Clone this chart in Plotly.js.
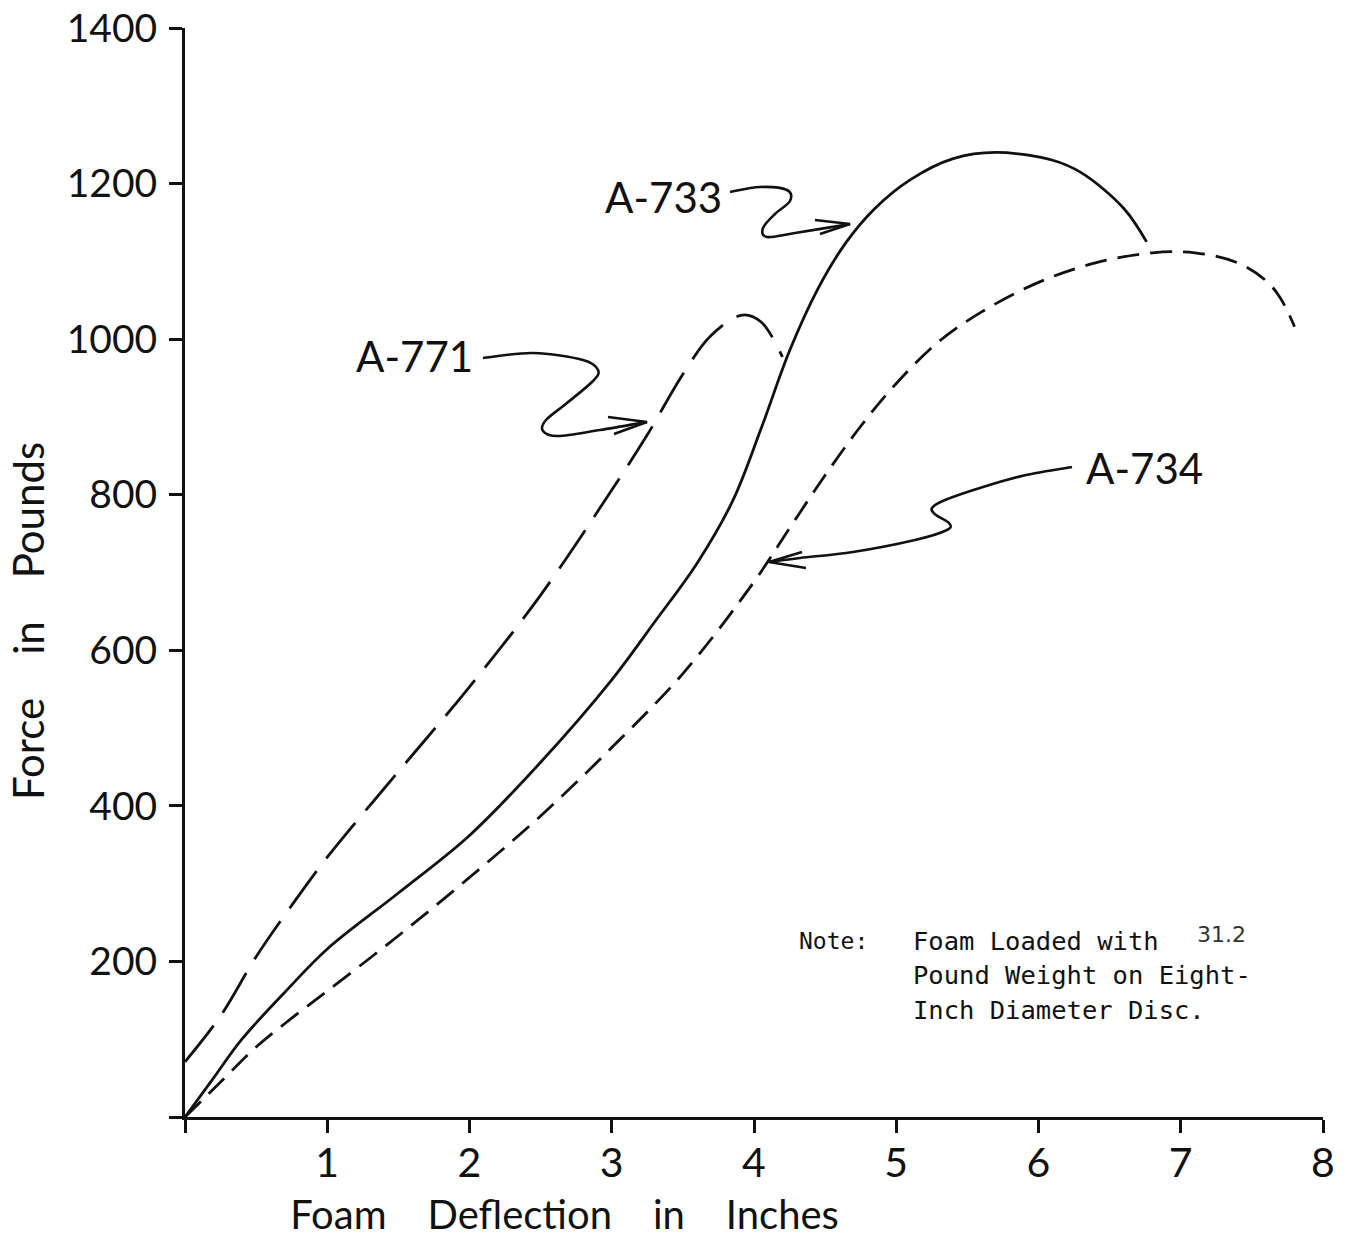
<!DOCTYPE html>
<html>
<head>
<meta charset="utf-8">
<script src="https://cdn.plot.ly/plotly-3.0.1.min.js"></script>
<style>html,body{margin:0;padding:0;background:#fff;}#chart{width:1346px;height:1245px;}</style>
</head>
<body>
<div id="chart"></div>
<script>
// ---- Data ----
const a771X = [0, 0.25, 0.5, 0.75, 1.0, 1.5, 2.0, 2.5, 3.0, 3.25, 3.5, 3.7, 3.92, 4.05, 4.2];
const a771Y = [71, 130, 206, 272, 334, 444, 553, 671, 806, 877, 955, 1005, 1031, 1022, 977];

const a733X = [0, 0.2, 0.4, 0.7, 1.0, 1.5, 2.0, 2.5, 3.0, 3.3, 3.6, 3.85, 4.05, 4.25, 4.45, 4.65, 4.85, 5.1, 5.4, 5.7, 6.1, 6.3, 6.6, 6.76];
const a733Y = [0, 50, 100, 160, 216, 288, 362, 456, 562, 636, 712, 792, 885, 985, 1065, 1125, 1168, 1205, 1232, 1240, 1230, 1214, 1168, 1125];

const a734X = [0, 0.25, 0.5, 0.75, 1.0, 1.5, 2.0, 2.5, 3.0, 3.5, 4.0, 4.25, 4.5, 4.75, 5.0, 5.3, 5.6, 6.0, 6.4, 6.8, 7.1, 7.4, 7.6, 7.7, 7.8];
const a734Y = [0, 45, 90, 127, 162, 233, 308, 387, 475, 570, 688, 757, 825, 888, 943, 997, 1035, 1073, 1098, 1111, 1111, 1098, 1075, 1053, 1016];

const xTickVals = [0, 1, 2, 3, 4, 5, 6, 7, 8];
const xTickText = ['', '1', '2', '3', '4', '5', '6', '7', '8'];
const yTickVals = [0, 200, 400, 600, 800, 1000, 1200, 1400];
const yTickText = ['', '200', '400', '600', '800', '1000', '1200', '1400'];

const seriesNames = ['A-771', 'A-733', 'A-734'];
const gap = '\u00a0\u00a0\u00a0 ';
const xTitle = 'Foam' + gap + 'Deflection' + gap + 'in' + gap + 'Inches';
const yTitle = 'Force' + gap + 'in' + gap + 'Pounds';
const noteLines = ['Foam Loaded with', 'Pound Weight on Eight-', 'Inch Diameter Disc.'];
const noteLabel = 'Note:';
const noteWeight = '31.2';

// ---- Layout geometry ----
const L = 185, T = 28, W = 1138, H = 1089, XMAX = 8, YMAX = 1400;
function dx(px) { return (px - L) / W * XMAX; }
function dy(py) { return (T + H - py) / H * YMAX; }

function smoothPath(pts) {
  let s = 'M' + dx(pts[0][0]) + ',' + dy(pts[0][1]);
  for (let i = 0; i < pts.length - 1; i++) {
    const p0 = pts[i - 1] || pts[i], p1 = pts[i], p2 = pts[i + 1], p3 = pts[i + 2] || pts[i + 1];
    const c1 = [p1[0] + (p2[0] - p0[0]) / 6, p1[1] + (p2[1] - p0[1]) / 6];
    const c2 = [p2[0] - (p3[0] - p1[0]) / 6, p2[1] - (p3[1] - p1[1]) / 6];
    s += ' C' + dx(c1[0]) + ',' + dy(c1[1]) + ' ' + dx(c2[0]) + ',' + dy(c2[1]) + ' ' + dx(p2[0]) + ',' + dy(p2[1]);
  }
  return s;
}
function polyPath(pts) {
  return pts.map((p, i) => (i ? 'L' : 'M') + dx(p[0]) + ',' + dy(p[1])).join(' ');
}

// hand-drawn leader arrows (pixel guides)
const arrow771 = [[483,358],[533,353],[583,360],[598,370],[593,381],[567,403],[546,420],[543,431],[558,436],[600,430],[647,422]];
const head771 = [[608,417],[647,422],[614,434]];
const arrow733 = [[730,192],[760,187],[787,190],[790,201],[775,214],[763,228],[767,237],[795,233],[850,224]];
const head733 = [[815,220],[850,224],[820,234]];
const arrow734 = [[1072,467],[1026,475],[983,487],[945,500],[932,508],[936,515],[949,523],[947,530],[915,540],[853,552],[800,558],[769,562]];
const head734 = [[802,552],[769,562],[806,568]];

const ink = '#111';
const lineStyle = { color: ink, width: 2.6 };
const shapes = [
  { type: 'path', xref: 'x', yref: 'y', path: smoothPath(arrow771), line: lineStyle },
  { type: 'path', xref: 'x', yref: 'y', path: polyPath(head771), line: lineStyle },
  { type: 'path', xref: 'x', yref: 'y', path: smoothPath(arrow733), line: lineStyle },
  { type: 'path', xref: 'x', yref: 'y', path: polyPath(head733), line: lineStyle },
  { type: 'path', xref: 'x', yref: 'y', path: smoothPath(arrow734), line: lineStyle },
  { type: 'path', xref: 'x', yref: 'y', path: polyPath(head734), line: lineStyle }
];

const mainFont = 'Lato, "Noto Sans", sans-serif';
const monoFont = '"DejaVu Sans Mono", "Liberation Mono", monospace';

const traces = [
  { x: a771X, y: a771Y, name: seriesNames[0], mode: 'lines', line: { color: ink, width: 2.8, dash: '46px,16px', shape: 'spline', smoothing: 1 } },
  { x: a733X, y: a733Y, name: seriesNames[1], mode: 'lines', line: { color: ink, width: 2.8, dash: 'solid', shape: 'spline', smoothing: 1 } },
  { x: a734X, y: a734Y, name: seriesNames[2], mode: 'lines', line: { color: ink, width: 2.8, dash: '22px,11px', shape: 'spline', smoothing: 1 } }
];

const annotations = [
  { text: seriesNames[0], x: dx(414), y: dy(356), xref: 'x', yref: 'y', showarrow: false, font: { family: mainFont, size: 42, color: ink } },
  { text: seriesNames[1], x: dx(663), y: dy(197), xref: 'x', yref: 'y', showarrow: false, font: { family: mainFont, size: 42, color: ink } },
  { text: seriesNames[2], x: dx(1144), y: dy(468), xref: 'x', yref: 'y', showarrow: false, font: { family: mainFont, size: 42, color: ink } },
  { text: noteLabel, x: dx(797), y: dy(941), xref: 'x', yref: 'y', xanchor: 'left', yanchor: 'middle', showarrow: false, font: { family: monoFont, size: 23, color: ink } },
  { text: noteLines[0], x: dx(911), y: dy(941), xref: 'x', yref: 'y', xanchor: 'left', yanchor: 'middle', showarrow: false, font: { family: monoFont, size: 25.5, color: ink } },
  { text: noteLines[1], x: dx(911), y: dy(975), xref: 'x', yref: 'y', xanchor: 'left', yanchor: 'middle', showarrow: false, font: { family: monoFont, size: 25.5, color: ink } },
  { text: noteLines[2], x: dx(911), y: dy(1010), xref: 'x', yref: 'y', xanchor: 'left', yanchor: 'middle', showarrow: false, font: { family: monoFont, size: 25.5, color: ink } },
  { text: noteWeight, x: dx(1195), y: dy(934), xref: 'x', yref: 'y', xanchor: 'left', yanchor: 'middle', showarrow: false, font: { family: '"DejaVu Sans", sans-serif', size: 22, color: '#333' } }
];

const layout = {
  width: 1346, height: 1245, autosize: false,
  margin: { l: L, r: 1346 - L - W, t: T, b: 1245 - T - H, pad: 0 },
  paper_bgcolor: '#fff', plot_bgcolor: '#fff',
  showlegend: false,
  xaxis: {
    range: [0, XMAX], showgrid: false, zeroline: false,
    showline: true, linecolor: ink, linewidth: 3,
    ticks: 'outside', ticklen: 13, tickwidth: 3, tickcolor: ink,
    tickmode: 'array', tickvals: xTickVals, ticktext: xTickText,
    tickfont: { family: mainFont, size: 41, color: ink },
    ticklabelstandoff: -5,
    title: { text: xTitle + '\u00a0'.repeat(37) + '\u200b', font: { family: mainFont, size: 40, color: ink }, standoff: 16 }
  },
  yaxis: {
    range: [0, YMAX], showgrid: false, zeroline: false,
    showline: true, linecolor: ink, linewidth: 3,
    ticks: 'outside', ticklen: 13, tickwidth: 3, tickcolor: ink,
    tickmode: 'array', tickvals: yTickVals, ticktext: yTickText,
    tickfont: { family: mainFont, size: 39, color: ink },
    ticklabelstandoff: 4,
    title: { text: yTitle + '\u00a0'.repeat(9) + '\u200b', font: { family: mainFont, size: 42, color: ink }, standoff: 10 }
  },
  shapes: shapes,
  annotations: annotations
};

Plotly.newPlot('chart', traces, layout, { staticPlot: true, displayModeBar: false });
</script>
</body>
</html>
